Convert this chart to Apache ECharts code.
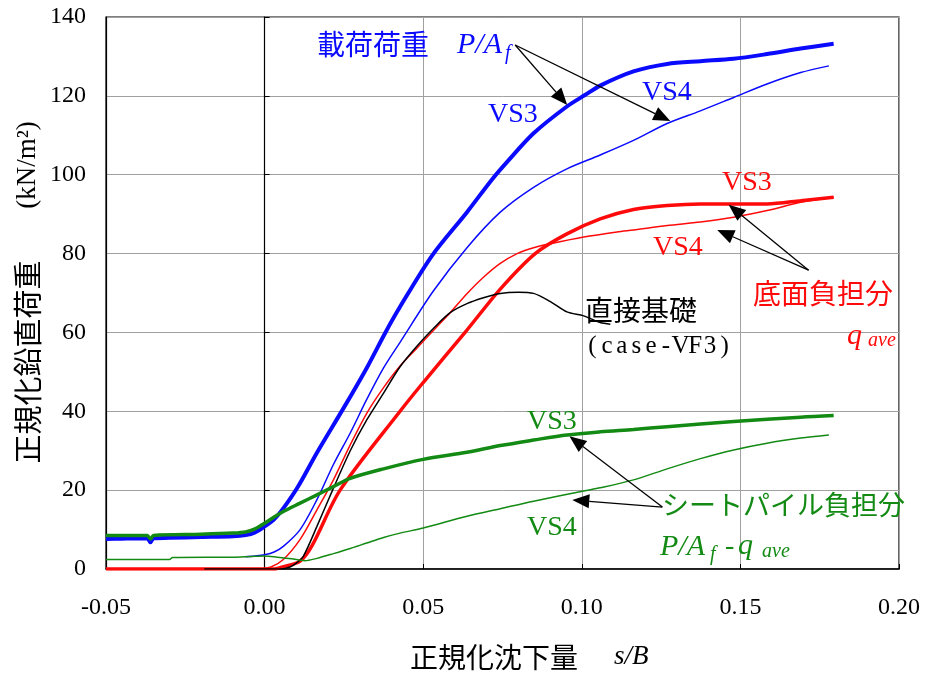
<!DOCTYPE html>
<html>
<head>
<meta charset="utf-8">
<script src="https://cdn.jsdelivr.net/npm/echarts@6/dist/echarts.min.js"></script>
<style>
  html, body { margin: 0; padding: 0; background: #fff; }
  #chart { width: 926px; height: 673px; }
</style>
</head>
<body>
<div id="chart"></div>
<script>
// Axis ranges and ticks
const xMin = -0.05, xMax = 0.20, xStep = 0.05;
const yMin = 0, yMax = 140, yStep = 20;
const xTickLabels = ['-0.05', '0.00', '0.05', '0.10', '0.15', '0.20'];

// 載荷荷重 P/A_f  (normalized settlement s/B, kN/m2)
const loadVS3 = [[-0.05,7.6],[-0.045,7.7],[-0.037,7.8],[-0.036,6.8],[-0.035,7.8],[-0.03,7.9],[-0.02,8.1],[-0.01,8.3],[-0.006,8.6],[-0.003,9.3],[0,10.8],[0.003,12.6],[0.006,15.5],[0.0106,21],[0.0165,29.5],[0.0254,41.5],[0.0322,51],[0.0381,60],[0.0427,66.5],[0.0528,79.5],[0.0638,90.5],[0.0717,98.8],[0.0764,103.2],[0.0848,110.5],[0.0953,117.3],[0.101,120.2],[0.1058,122.6],[0.1163,126.2],[0.1269,128.1],[0.1374,128.8],[0.1478,129.4],[0.1584,130.6],[0.169,132],[0.1794,133.2]];
const loadVS4 = [[-0.006,3.1],[-0.003,3.3],[0,3.6],[0.003,4.3],[0.006,5.8],[0.0112,10],[0.0165,17.6],[0.0217,26.5],[0.027,34.5],[0.0322,43],[0.0375,51],[0.0427,57.5],[0.0532,70.5],[0.0638,81.5],[0.0743,90.5],[0.0848,96.8],[0.0953,101.5],[0.1058,105],[0.1163,108.7],[0.1269,113],[0.1374,116.2],[0.1479,119.6],[0.1584,123],[0.169,125.9],[0.1779,127.6]];

// 底面負担分 q_ave
const baseVS3 = [[-0.05,0],[0.003,0],[0.006,0.6],[0.0112,2],[0.015,6],[0.0238,20],[0.0427,40],[0.05,47.3],[0.0632,60],[0.0743,71],[0.0853,80],[0.0953,85],[0.1058,88.8],[0.1163,91.2],[0.1269,92.2],[0.1374,92.6],[0.1584,92.6],[0.169,93.4],[0.1794,94.3]];
const baseVS4 = [[-0.05,0],[-0.002,0],[0.002,0.5],[0.0059,2.4],[0.0112,7.5],[0.0165,15],[0.0217,22.6],[0.027,31.5],[0.0322,39.5],[0.0375,46],[0.0427,51.5],[0.048,56],[0.0532,60.5],[0.0585,65],[0.064,70],[0.069,74],[0.0743,77.5],[0.0796,80],[0.0848,81.5],[0.0901,82.5],[0.1006,84.2],[0.1111,85.5],[0.1163,86],[0.1269,87.1],[0.1374,88],[0.1479,89.2],[0.1584,90.9],[0.169,93],[0.1794,94.3]];

// 直接基礎 (case-VF3)
const directVF3 = [[-0.019,0],[0.005,0],[0.008,0.5],[0.0102,1.6],[0.0122,3.2],[0.0165,10.8],[0.0217,20.5],[0.027,30],[0.0322,37.8],[0.0375,44.6],[0.0427,51.3],[0.048,56.5],[0.0532,61],[0.0585,65],[0.0638,67.3],[0.069,68.8],[0.0743,69.9],[0.08,70.2],[0.0848,69.9],[0.0901,67.8],[0.0953,65.2],[0.1006,64.2],[0.1058,62.5],[0.109,62.1]];

// シートパイル負担分 P/A_f - q_ave
const pileVS3 = [[-0.05,8.5],[-0.037,8.5],[-0.036,7.6],[-0.035,8.5],[-0.02,8.8],[-0.01,9.1],[-0.006,9.4],[-0.003,10.2],[0,11.6],[0.003,13.2],[0.0059,14.6],[0.0112,16.7],[0.0165,18.8],[0.0217,20.9],[0.027,23],[0.0375,25.4],[0.05,27.8],[0.0638,29.6],[0.0743,31.3],[0.0848,32.7],[0.0953,34],[0.1058,34.8],[0.1163,35.4],[0.1269,36.1],[0.1479,37.4],[0.169,38.5],[0.1794,38.9]];
const pileVS4 = [[-0.05,2.4],[-0.03,2.4],[-0.029,2.9],[-0.01,3.0],[-0.004,3.2],[0,3.3],[0.004,3.0],[0.0085,2.6],[0.0127,2.1],[0.0165,2.7],[0.0217,3.9],[0.027,5.2],[0.0322,6.6],[0.0375,8.0],[0.0427,9.1],[0.05,10.4],[0.0638,13.4],[0.0743,15.3],[0.0848,17.2],[0.1006,19.8],[0.1058,20.6],[0.1163,22.6],[0.1269,25.4],[0.1374,28.0],[0.1479,30.2],[0.1584,31.9],[0.169,33.2],[0.1779,34]];

// Leader arrows: [tail, tip] in data coordinates
const arrowsLoad = [[[0.079,132.9],[0.0954,117.7]], [[0.079,132.9],[0.1279,113.6]]];
const arrowsBase = [[[0.1715,75.8],[0.1463,92.4]], [[0.1715,75.8],[0.1427,86.0]]];
const arrowsPile = [[[0.1254,15.7],[0.0961,33.7]], [[0.1254,15.7],[0.097,17.5]]];

const BLUE = '#0a0aff', RED = '#ff0a0a', GREEN = '#138a13', BLACK = '#000';
const SERIF = '"Liberation Serif", "Times New Roman", serif';
const CJK = '"Noto Sans CJK JP", sans-serif';

const chart = echarts.init(document.getElementById('chart'), null, { renderer: 'canvas' });

function lineSeries(name, data, color, width) {
  return {
    name, type: 'line', data, showSymbol: false, symbol: 'none',
    smooth: 0.3, silent: true, animation: false,
    lineStyle: { color, width }, z: 3
  };
}

const texts = [];
function txt(text, x, y, font, fill, extra) {
  const el = {
    type: 'text', x, y, silent: true, z: 10,
    style: { text, font, fill, align: 'left', verticalAlign: 'middle' }
  };
  if (extra) {
    if (extra.rotation != null) el.rotation = extra.rotation;
    Object.assign(el.style, extra.style || {});
  }
  texts.push(el);
}

// axis titles
txt('正規化沈下量', 410, 657, '28px ' + CJK, '#000');
txt('s/B', 614, 657, 'italic 27px ' + SERIF, '#000');
txt('正規化鉛直荷重', 28, 362, '29px ' + CJK, '#000', { rotation: Math.PI / 2, style: { align: 'center' } });
txt('(kN/m²)', 28, 165, '27px ' + SERIF, '#000', { rotation: Math.PI / 2, style: { align: 'center' } });

// load annotations
txt('載荷荷重', 317, 44, '28px ' + CJK, BLUE);
txt('P/A', 457, 45, 'italic 30px ' + SERIF, BLUE);
txt('f', 505, 54, 'italic 20px ' + SERIF, BLUE);
txt('VS3', 488, 115, '28px ' + SERIF, BLUE);
txt('VS4', 642, 93, '28px ' + SERIF, BLUE);

// base annotations
txt('VS3', 722, 183, '28px ' + SERIF, RED);
txt('VS4', 653, 248, '28px ' + SERIF, RED);
txt('底面負担分', 753, 293, '28px ' + CJK, RED);
txt('q', 847, 336, 'italic 30px ' + SERIF, RED);
txt('ave', 868, 341, 'italic 20px ' + SERIF, RED);

// direct foundation; the case label is set in fixed half-width cells
txt('直接基礎', 585, 310, '28px ' + CJK, BLACK);
const caseLabel = '(case-VF3)';
txt(caseLabel.split('').map(ch => '{m|' + ch + '}').join(''), 585, 346, undefined, BLACK, {
  style: {
    fontFamily: SERIF, fontSize: 25,
    rich: { m: { fontFamily: SERIF, fontSize: 25, fill: BLACK, width: 14.7, align: 'center' } }
  }
});

// pile annotations
txt('VS3', 527, 422, '28px ' + SERIF, GREEN);
txt('VS4', 527, 528, '28px ' + SERIF, GREEN);
txt('シートパイル負担分', 662, 505, '27px ' + CJK, GREEN);
txt('P/A', 660, 547, 'italic 30px ' + SERIF, GREEN);
txt('f', 710, 555, 'italic 20px ' + SERIF, GREEN);
txt('-', 725, 547, 'italic 28px ' + SERIF, GREEN);
txt('q', 738, 546, 'italic 30px ' + SERIF, GREEN);
txt('ave', 762, 552, 'italic 20px ' + SERIF, GREEN);

const option = {
  animation: false,
  backgroundColor: '#fff',
  grid: { left: 106, right: 27, top: 17, bottom: 104, show: true, borderColor: '#000', borderWidth: 1.2, containLabel: false },
  xAxis: {
    type: 'value', min: xMin, max: xMax, interval: xStep,
    axisLine: { onZero: false, lineStyle: { color: '#000', width: 1.5 } },
    axisTick: { inside: true, length: 5, lineStyle: { color: '#000' } },
    axisLabel: {
      margin: 27, color: '#000', fontFamily: SERIF, fontSize: 24,
      formatter: v => xTickLabels[Math.round((v - xMin) / xStep)]
    },
    splitLine: { show: true, lineStyle: { color: '#a0a0a0', width: 1 } }
  },
  yAxis: [{
    type: 'value', min: yMin, max: yMax, interval: yStep,
    axisLine: { show: true, onZero: false, lineStyle: { color: '#000', width: 1.2 } },
    axisTick: { show: false },
    axisLabel: { margin: 20, color: '#000', fontFamily: SERIF, fontSize: 24 },
    splitLine: { show: true, lineStyle: { color: '#a0a0a0', width: 1 } }
  }, {
    type: 'value', min: yMin, max: yMax, interval: yStep, position: 'left',
    axisLine: { show: true, onZero: true, lineStyle: { color: '#000', width: 1.2 } },
    axisTick: { show: true, inside: true, length: 5, lineStyle: { color: '#000' } },
    axisLabel: { show: false },
    splitLine: { show: false }
  }],
  series: [
    lineSeries('載荷荷重 VS4', loadVS4, BLUE, 1.5),
    lineSeries('載荷荷重 VS3', loadVS3, BLUE, 4),
    lineSeries('底面負担分 VS4', baseVS4, RED, 1.5),
    lineSeries('底面負担分 VS3', baseVS3, RED, 3.5),
    lineSeries('直接基礎', directVF3, BLACK, 1.5),
    lineSeries('シートパイル負担分 VS4', pileVS4, GREEN, 1.5),
    lineSeries('シートパイル負担分 VS3', pileVS3, GREEN, 3.5)
  ],
  graphic: texts
};
chart.setOption(option);

// Leader arrows with filled triangular heads, placed through the axis scales
function arrowGraphics(list) {
  const out = [];
  list.forEach(([tail, tip]) => {
    const a = chart.convertToPixel({ gridIndex: 0 }, tail);
    const b = chart.convertToPixel({ gridIndex: 0 }, tip);
    const dx = b[0] - a[0], dy = b[1] - a[1];
    const len = Math.hypot(dx, dy);
    const ux = dx / len, uy = dy / len;
    const L = 17, W = 7;
    const bx = b[0] - ux * L, by = b[1] - uy * L;
    out.push({ type: 'line', silent: true, z: 9, shape: { x1: a[0], y1: a[1], x2: bx, y2: by }, style: { stroke: '#000', lineWidth: 1.3 } });
    out.push({ type: 'polygon', silent: true, z: 9, shape: { points: [[b[0], b[1]], [bx - uy * W, by + ux * W], [bx + uy * W, by - ux * W]] }, style: { fill: '#000' } });
  });
  return out;
}
chart.setOption({ graphic: texts.concat(arrowGraphics(arrowsLoad), arrowGraphics(arrowsBase), arrowGraphics(arrowsPile)) }, { replaceMerge: ['graphic'] });
</script>
</body>
</html>
